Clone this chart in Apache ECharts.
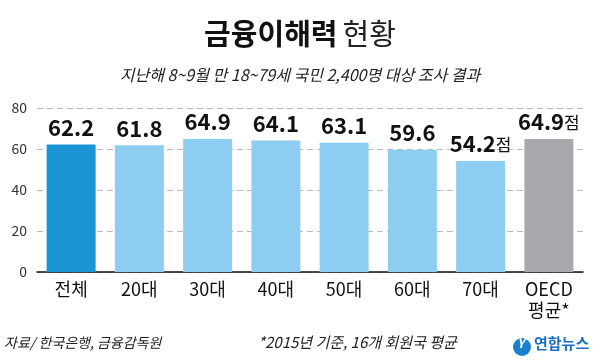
<!DOCTYPE html>
<html>
<head>
<meta charset="utf-8">
<script src="https://cdn.jsdelivr.net/npm/echarts@6/dist/echarts.min.js"></script>
<style>
  html, body { margin: 0; padding: 0; background: #fff; }
  #chart { width: 600px; height: 364px; }
</style>
</head>
<body>
<div id="chart"></div>
<script>
// 금융이해력 현황 데이터
var categories = ['전체', '20대', '30대', '40대', '50대', '60대', '70대', 'OECD\n평균*'];
var scores = [62.2, 61.8, 64.9, 64.1, 63.1, 59.6, 54.2, 64.9];
var unitOn = [false, false, false, false, false, false, true, true];
var yTicks = [0, 20, 40, 60, 80];

var KR = '"Noto Sans CJK KR", "Noto Sans", sans-serif';
var barColors = ['#1b95d6', '#8dcdf1', '#8dcdf1', '#8dcdf1', '#8dcdf1', '#8dcdf1', '#8dcdf1', '#a6a8ab'];

var chart = echarts.init(document.getElementById('chart'));

var barData = scores.map(function(v, i) {
  return {
    value: v,
    itemStyle: { color: barColors[i] },
    label: {
      formatter: unitOn[i] ? '{a|' + v.toFixed(1) + '}{b|점}' : '{a|' + v.toFixed(1) + '}'
    }
  };
});

var option = {
  animation: false,
  backgroundColor: '#fff',
  title: [{
    text: '{b|금융이해력} {r|현황}',
    left: 'center',
    top: 14,
    textStyle: {
      rich: {
        b: { fontFamily: KR, fontSize: 29, fontWeight: 'bold', color: '#111' },
        r: { fontFamily: KR, fontSize: 29, fontWeight: 'normal', color: '#222' }
      }
    }
  }, {
    text: '지난해 8~9월 만 18~79세 국민 2,400명 대상 조사 결과',
    left: 'center',
    top: 62,
    textStyle: { fontFamily: KR, fontSize: 16, fontWeight: 'normal', fontStyle: 'italic', color: '#222' }
  }],
  graphic: [{
    type: 'text', left: 4, top: 336,
    style: { text: '자료/ 한국은행, 금융감독원', font: 'italic 14px ' + KR, fill: '#222' }
  }, {
    type: 'text', left: 258, top: 335,
    style: { text: '*2015년 기준, 16개 회원국 평균', font: 'italic 15px ' + KR, fill: '#222' }
  }, {
    type: 'circle', shape: { cx: 522, cy: 347, r: 9 },
    style: { fill: '#1b7fd0' }
  }, {
    type: 'text', left: 517, top: 337,
    style: { text: 'Y', font: 'italic bold 13px ' + KR, fill: '#fff' }
  }, {
    type: 'text', left: 534, top: 336,
    style: { text: '연합뉴스', font: 'bold 15px ' + KR, fill: '#1b6fc0' }
  }],
  grid: { left: 37, right: 17, top: 108, bottom: 92, containLabel: false },
  xAxis: {
    type: 'category',
    data: categories,
    axisLine: { lineStyle: { color: '#111', width: 1.5 } },
    axisTick: { show: false },
    axisLabel: {
      color: '#111', fontFamily: KR, fontSize: 18, margin: 7, lineHeight: 21, interval: 0
    }
  },
  yAxis: {
    type: 'value',
    min: yTicks[0],
    max: yTicks[yTicks.length - 1],
    interval: 20,
    axisLine: { show: false },
    axisTick: { show: false },
    axisLabel: { color: '#333', fontFamily: KR, fontSize: 14, margin: 10 },
    splitLine: { lineStyle: { color: '#bbb', type: [6, 4], width: 1 } }
  },
  series: [{
    type: 'bar',
    data: barData,
    barWidth: 49,
    label: {
      show: true,
      position: 'top',
      distance: 6,
      rich: {
        a: { fontFamily: KR, fontSize: 22, fontWeight: 'bold', color: '#111' },
        b: { fontFamily: KR, fontSize: 17, fontWeight: 'normal', color: '#111', padding: [2, 0, 0, 0] }
      }
    }
  }]
};

chart.setOption(option);
</script>
</body>
</html>
